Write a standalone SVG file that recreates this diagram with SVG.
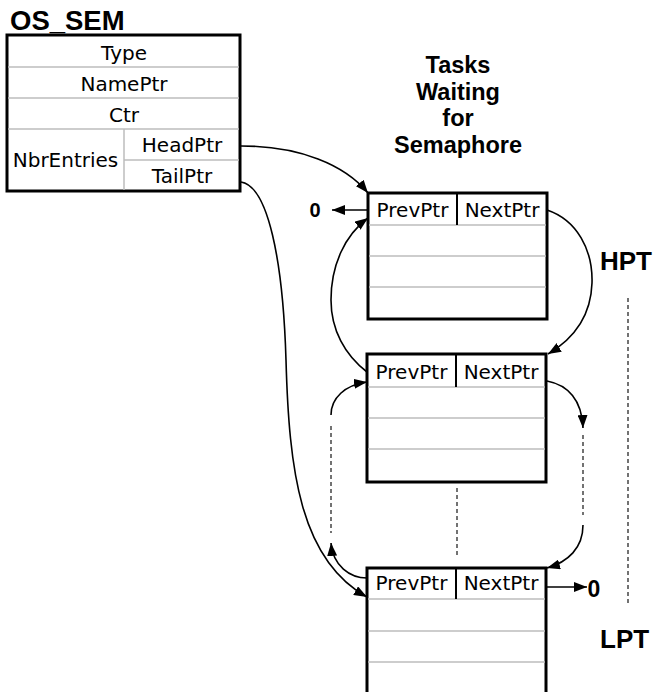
<svg xmlns="http://www.w3.org/2000/svg" width="653" height="692" viewBox="0 0 653 692">
<style>
.box{fill:#fff;stroke:#000;stroke-width:3}
.row{stroke:#bdbdbd;stroke-width:1.5;fill:none}
.vdiv{stroke:#000;stroke-width:2}
.t{font-family:"DejaVu Sans",Verdana,sans-serif;font-size:20px;fill:#000;text-anchor:middle}
.b{font-family:"Liberation Sans",Arial,sans-serif;font-weight:bold;fill:#000}
.c{fill:none;stroke:#000;stroke-width:1.6}
.d{fill:none;stroke:#444;stroke-width:1.5;stroke-dasharray:4,3}
</style>
<defs>
<marker id="ah" viewBox="0 0 13 10" refX="13" refY="5" markerWidth="13" markerHeight="10" markerUnits="userSpaceOnUse" orient="auto">
<path d="M0,0 L13,5 L0,10 Z" fill="#000"/>
</marker>
</defs>

<g id="os_sem">
<text class="b" x="10" y="30" font-size="27.5">OS_SEM</text>
<rect class="box" x="7" y="35" width="233" height="156"/>
<path class="row" d="M8,67H239M8,98H239M8,129H239M124,160H239M124,129V190"/>
<text class="t" x="124" y="60">Type</text>
<text class="t" x="124" y="91">NamePtr</text>
<text class="t" x="124" y="122">Ctr</text>
<text class="t" x="65.5" y="167">NbrEntries</text>
<text class="t" x="182" y="152">HeadPtr</text>
<text class="t" x="182" y="183">TailPtr</text>
</g>

<g id="title">
<text class="b" font-size="23.5" text-anchor="middle" x="458" y="73">Tasks</text>
<text class="b" font-size="23.5" text-anchor="middle" x="458" y="100">Waiting</text>
<text class="b" font-size="23.5" text-anchor="middle" x="458" y="126">for</text>
<text class="b" font-size="23.5" text-anchor="middle" x="458" y="153">Semaphore</text>
</g>

<g id="task1">
<rect class="box" x="368" y="193" width="179" height="126"/>
<path class="row" d="M369,225H546M369,256H546M369,287H546"/>
<line class="vdiv" x1="457" y1="193" x2="457" y2="225"/>
<text class="t" x="412.5" y="217">PrevPtr</text>
<text class="t" x="502" y="217">NextPtr</text>
</g>

<g id="task2">
<rect class="box" x="367" y="354" width="179" height="128"/>
<path class="row" d="M368,387H545M368,418H545M368,449H545"/>
<line class="vdiv" x1="456" y1="354" x2="456" y2="387"/>
<text class="t" x="411.5" y="379">PrevPtr</text>
<text class="t" x="501" y="379">NextPtr</text>
</g>

<g id="task3">
<rect class="box" x="367" y="568" width="179" height="132"/>
<path class="row" d="M368,599H545M368,631H545M368,662H545"/>
<line class="vdiv" x1="456" y1="568" x2="456" y2="599"/>
<text class="t" x="411.5" y="590">PrevPtr</text>
<text class="t" x="501" y="590">NextPtr</text>
</g>

<g id="labels">
<text class="b" font-size="20" text-anchor="middle" x="315" y="217">0</text>
<text class="b" font-size="23" text-anchor="middle" x="594" y="597">0</text>
<text class="b" font-size="26" x="600" y="270">HPT</text>
<text class="b" font-size="26" x="600" y="648">LPT</text>
</g>

<g id="connectors">
<path class="c" marker-end="url(#ah)" d="M241,146 C300,146 345,165 368,193"/>
<path class="c" marker-end="url(#ah)" d="M241,182 C268,186 283,260 286,360 C289,470 300,560 367,597"/>
<path class="c" marker-end="url(#ah)" d="M367,210 H332"/>
<path class="c" marker-end="url(#ah)" d="M547,210 C577,220 593,250 592,283 C591,315 575,338 548,354"/>
<path class="c" marker-end="url(#ah)" d="M367,372 C345,355 331,330 331,300 C331,265 345,235 368,218"/>
<path class="c" marker-end="url(#ah)" d="M331,415 C331,398 345,385 367,382"/>
<path class="d" d="M331,426 V533"/>
<path class="c" marker-end="url(#ah)" d="M367,578 C350,578 333,566 331,543"/>
<path class="c" marker-end="url(#ah)" d="M547,381 C568,385 582,400 583,428"/>
<path class="d" d="M583,435 V515"/>
<path class="c" marker-end="url(#ah)" d="M583,525 C583,548 568,562 547,568"/>
<path class="c" marker-end="url(#ah)" d="M547,587 H587"/>
<path class="d" d="M457,488 V558"/>
<path class="d" d="M628,298 V605"/>
</g>
</svg>
